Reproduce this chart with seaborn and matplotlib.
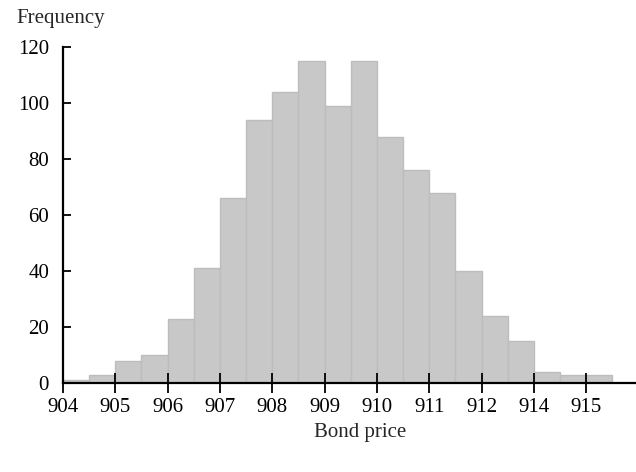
import numpy as np
import pandas as pd
import seaborn as sns
import matplotlib.pyplot as plt

# Histogram counts, one per half-unit bin
counts = [1, 3, 8, 10, 23, 41, 66, 94, 104, 115, 99, 115, 88, 76, 68, 40, 24, 15, 4, 3, 3]
tick_labels = ["904", "905", "906", "907", "908", "909", "910", "911", "912", "914", "915"]
y_ticks = [0, 20, 40, 60, 80, 100, 120]

df = pd.DataFrame({'bin': np.arange(len(counts)), 'count': counts})

sns.set_theme(style='white')
plt.rcParams['font.family'] = ['Liberation Serif', 'DejaVu Serif']

fig = plt.figure(figsize=(6.36, 4.72), dpi=100)
ax = fig.add_axes([63 / 636, 89 / 472, 1 - 63 / 636, (383 - 47) / 472])

sns.barplot(data=df, x='bin', y='count', ax=ax, width=1, color='#c8c8c8',
            saturation=1, edgecolor='#bdbdbd', linewidth=1)

ax.set_axisbelow(False)
ax.set_xlim(-0.5, 21.4)
ax.set_ylim(0, 120)
ax.set_xticks(np.arange(len(tick_labels)) * 2 - 0.5)
ax.set_xticklabels(tick_labels)
ax.set_yticks(y_ticks)
ax.set_xlabel('')
ax.set_ylabel('')

for side in ['top', 'right']:
    ax.spines[side].set_visible(False)
for side in ['left', 'bottom']:
    ax.spines[side].set_color('black')
    ax.spines[side].set_linewidth(1.6)

ax.tick_params(axis='x', direction='inout', length=14, width=1.3, colors='black',
               labelsize=15, pad=4, bottom=True)
ax.tick_params(axis='y', direction='in', length=6, width=1.3, colors='black',
               labelsize=15, pad=10, left=True)

fig.text(16 / 636, 1 - 18 / 472, 'Frequency', ha='left', va='center', fontsize=15)
fig.text(360 / 636, 1 - 432 / 472, 'Bond price', ha='center', va='center', fontsize=15)

fig.savefig('out.png', dpi=100)
